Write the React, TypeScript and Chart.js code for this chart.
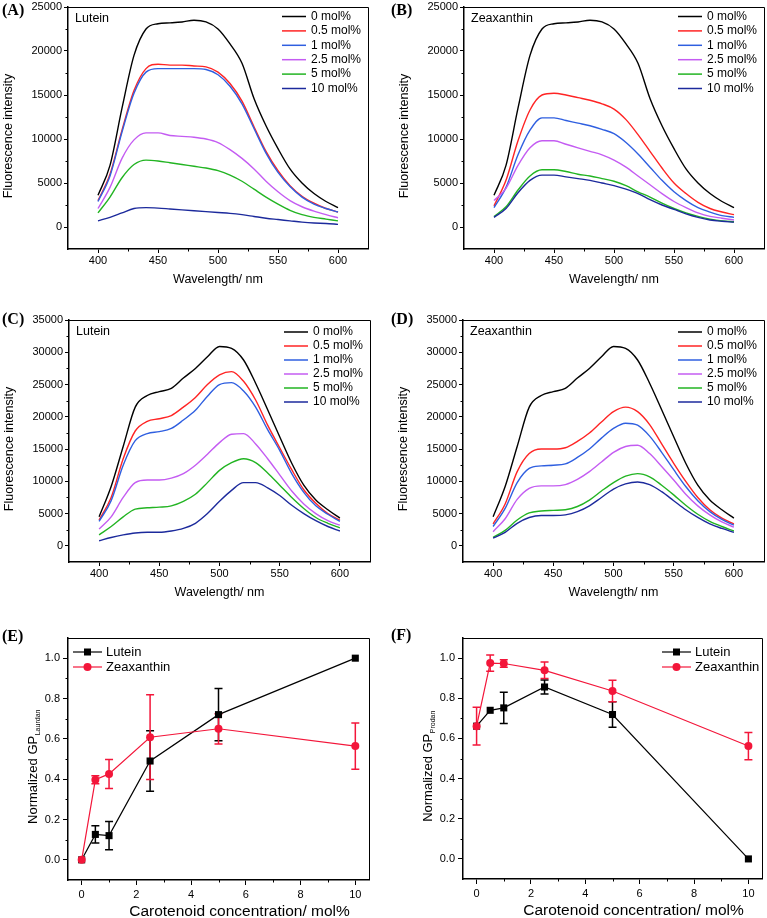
import React, { useEffect, useRef } from 'react';
import { Chart, registerables } from 'chart.js';

Chart.register(...registerables);

const FONT = '"Liberation Sans", Arial, Helvetica, sans-serif';
const SERIF = '"Liberation Serif", "Times New Roman", serif';

// ---------- Spectra data (fluorescence intensity vs wavelength) ----------
const wavelengths = [400, 410, 420, 430, 440, 450, 460, 470, 480, 490, 500, 510, 520, 530, 540, 550, 560, 570, 580, 590, 600];
const molLabels = ['0 mol%', '0.5 mol%', '1 mol%', '2.5 mol%', '5 mol%', '10 mol%'];
const spectrumColors = ['#000000', '#ff2424', '#2f5fe0', '#c45cf2', '#22b422', '#1c2a9c'];

// tick labels
const wavelengthTicks = [400, 450, 500, 550, 600];
const laurdanIntensityTicks = [0, 5000, 10000, 15000, 20000, 25000];
const prodanIntensityTicks = [0, 5000, 10000, 15000, 20000, 25000, 30000, 35000];
const concentrationTicks = [0, 2, 4, 6, 8, 10];
const gpTicks = [0, 0.2, 0.4, 0.6, 0.8, 1.0];

// Laurdan (A, B)
const laurdanControl = [3600, 7000, 13500, 19500, 22500, 23100, 23200, 23300, 23500, 23300, 22500, 20800, 18600, 14600, 11500, 8900, 6600, 5000, 3800, 2900, 2200];
const laurdanLut05 = [3000, 6000, 11000, 15500, 18000, 18500, 18400, 18400, 18300, 18200, 17600, 16300, 14300, 11400, 8600, 6400, 4700, 3500, 2700, 2100, 1700];
const laurdanLut1 = [2900, 5800, 10800, 15200, 17600, 18000, 18000, 18000, 18000, 17900, 17300, 16000, 14000, 11200, 8400, 6200, 4600, 3400, 2600, 2100, 1700];
const laurdanLut25 = [2100, 4500, 7800, 9900, 10700, 10700, 10400, 10300, 10200, 10000, 9600, 8800, 7800, 6600, 5200, 4000, 3000, 2300, 1800, 1400, 1050];
const laurdanLut5 = [1600, 3400, 5600, 7100, 7600, 7500, 7300, 7100, 6900, 6700, 6400, 5900, 5200, 4300, 3400, 2600, 1900, 1400, 1100, 900, 700];
const laurdanLut10 = [700, 1100, 1600, 2100, 2200, 2150, 2050, 1950, 1850, 1750, 1650, 1550, 1400, 1200, 1000, 850, 700, 550, 450, 400, 300];

const laurdanZea05 = [2400, 5300, 9800, 13300, 15000, 15200, 15000, 14700, 14400, 14000, 13400, 12200, 10500, 8600, 6700, 5000, 3800, 2800, 2100, 1700, 1400];
const laurdanZea1 = [2200, 4500, 8200, 11000, 12400, 12400, 12100, 11800, 11500, 11100, 10600, 9600, 8300, 6800, 5300, 4000, 3000, 2200, 1700, 1300, 1100];
const laurdanZea25 = [3000, 4400, 7000, 9000, 9800, 9800, 9400, 9000, 8600, 8200, 7600, 6800, 5800, 4800, 3800, 2900, 2200, 1600, 1200, 1000, 800];
const laurdanZea5 = [1200, 2300, 4200, 5800, 6500, 6500, 6300, 6000, 5800, 5500, 5200, 4700, 4000, 3400, 2700, 2100, 1600, 1200, 900, 700, 600];
const laurdanZea10 = [1100, 2100, 3900, 5300, 5900, 5900, 5700, 5500, 5300, 5000, 4700, 4300, 3800, 3100, 2500, 2000, 1500, 1100, 800, 650, 550];

// Prodan (C, D)
const prodanControl = [4500, 9200, 15400, 21500, 23300, 23900, 24400, 26000, 27500, 29300, 30900, 30600, 28800, 25200, 21100, 16900, 12800, 9400, 7100, 5600, 4300];
const prodanLut05 = [4000, 7500, 13500, 17800, 19300, 19700, 20200, 21500, 23000, 25000, 26500, 27000, 25500, 22600, 18700, 15200, 11800, 8700, 6600, 5000, 4000];
const prodanLut1 = [3800, 7000, 12500, 16300, 17400, 17700, 18200, 19500, 21000, 23200, 25000, 25300, 24000, 21500, 18000, 14800, 11200, 8300, 6200, 4900, 3800];
const prodanLut25 = [2600, 4500, 7500, 9800, 10200, 10200, 10500, 11200, 12500, 14200, 16000, 17300, 17400, 15800, 13500, 11000, 8500, 6500, 5000, 3900, 3200];
const prodanLut5 = [1700, 3000, 4500, 5700, 5900, 6000, 6200, 6900, 8000, 9800, 11700, 12900, 13500, 12900, 11300, 9400, 7500, 5800, 4400, 3500, 2800];
const prodanLut10 = [800, 1300, 1700, 2000, 2100, 2100, 2300, 2700, 3500, 5000, 6900, 8600, 9800, 9800, 9000, 7800, 6300, 5000, 3900, 3000, 2300];

const prodanZea05 = [3400, 6500, 11500, 14300, 15000, 15000, 15200, 16200, 17500, 19200, 20800, 21500, 20800, 18800, 15800, 12800, 10000, 7500, 5600, 4300, 3400];
const prodanZea1 = [3000, 5800, 9800, 12000, 12400, 12500, 12700, 13700, 15000, 16700, 18200, 19000, 18700, 17000, 14500, 11800, 9200, 7000, 5300, 4100, 3200];
const prodanZea25 = [2200, 4200, 7200, 8900, 9300, 9300, 9500, 10300, 11500, 13000, 14500, 15400, 15600, 14300, 12300, 10200, 8000, 6200, 4800, 3700, 2900];
const prodanZea5 = [1300, 2400, 4000, 5100, 5400, 5500, 5600, 6100, 7100, 8500, 9800, 10800, 11200, 10700, 9400, 7900, 6300, 4900, 3800, 3000, 2300];
const prodanZea10 = [1200, 2100, 3500, 4400, 4700, 4700, 4800, 5300, 6200, 7500, 8800, 9600, 9900, 9500, 8400, 7000, 5600, 4400, 3400, 2700, 2100];

// ---------- GP data ----------
const concentrations = [0, 0.5, 1, 2.5, 5, 10];
const gpLaurdanLutein = [0, 0.126, 0.12, 0.49, 0.72, 1.0];
const gpLaurdanLuteinErr = [0, 0.043, 0.07, 0.15, 0.13, 0];
const gpLaurdanZea = [0, 0.397, 0.426, 0.608, 0.65, 0.564];
const gpLaurdanZeaErr = [0, 0.02, 0.072, 0.21, 0.075, 0.115];
const gpProdanLutein = [0.661, 0.74, 0.752, 0.856, 0.719, 0];
const gpProdanLuteinErr = [0, 0, 0.078, 0.035, 0.063, 0];
const gpProdanZea = [0.661, 0.975, 0.973, 0.939, 0.836, 0.562];
const gpProdanZeaErr = [0.094, 0.04, 0.019, 0.041, 0.054, 0.068];

const gpSeriesNames = ['Lutein', 'Zeaxanthin'];
const gpColors = ['#000000', '#f3163a'];

// ---------- Layout specs ----------
type Area = { l: number; t: number; r: number; b: number };
type PanelSpec = {
  key: string;
  label: string;
  x: number; y: number; w: number; h: number;
  area: Area;
  labelPos: [number, number];
  kind: 'spectrum' | 'gp';
  name?: string;
  series?: number[][];
  yMax?: number;
  yTicks: number[];
  xTicks: number[];
  gp?: { values: number[][]; errors: number[][] };
  ySub?: string;
};

const panels: PanelSpec[] = [
  { key: 'A', label: '(A)', x: 0, y: 0, w: 384, h: 300, area: { l: 68, t: 7, r: 368, b: 249 }, labelPos: [2, 15], kind: 'spectrum', name: 'Lutein', yMax: 25000,
    yTicks: laurdanIntensityTicks, xTicks: wavelengthTicks,
    series: [laurdanControl, laurdanLut05, laurdanLut1, laurdanLut25, laurdanLut5, laurdanLut10] },
  { key: 'B', label: '(B)', x: 384, y: 0, w: 383, h: 300, area: { l: 80, t: 7, r: 380, b: 249 }, labelPos: [7, 15], kind: 'spectrum', name: 'Zeaxanthin', yMax: 25000,
    yTicks: laurdanIntensityTicks, xTicks: wavelengthTicks,
    series: [laurdanControl, laurdanZea05, laurdanZea1, laurdanZea25, laurdanZea5, laurdanZea10] },
  { key: 'C', label: '(C)', x: 0, y: 300, w: 384, h: 310, area: { l: 69, t: 20, r: 370, b: 262 }, labelPos: [2, 24], kind: 'spectrum', name: 'Lutein', yMax: 35000,
    yTicks: prodanIntensityTicks, xTicks: wavelengthTicks,
    series: [prodanControl, prodanLut05, prodanLut1, prodanLut25, prodanLut5, prodanLut10] },
  { key: 'D', label: '(D)', x: 384, y: 300, w: 383, h: 310, area: { l: 79, t: 20, r: 380, b: 262 }, labelPos: [7, 24], kind: 'spectrum', name: 'Zeaxanthin', yMax: 35000,
    yTicks: prodanIntensityTicks, xTicks: wavelengthTicks,
    series: [prodanControl, prodanZea05, prodanZea1, prodanZea25, prodanZea5, prodanZea10] },
  { key: 'E', label: '(E)', x: 0, y: 610, w: 384, h: 308, area: { l: 68, t: 28, r: 369, b: 270 }, labelPos: [2, 31], kind: 'gp', ySub: 'Laurdan',
    yTicks: gpTicks, xTicks: concentrationTicks,
    gp: { values: [gpLaurdanLutein, gpLaurdanZea], errors: [gpLaurdanLuteinErr, gpLaurdanZeaErr] } },
  { key: 'F', label: '(F)', x: 384, y: 610, w: 383, h: 308, area: { l: 79, t: 28, r: 379, b: 269 }, labelPos: [7, 30], kind: 'gp', ySub: 'Prodan',
    yTicks: gpTicks, xTicks: concentrationTicks,
    gp: { values: [gpProdanLutein, gpProdanZea], errors: [gpProdanLuteinErr, gpProdanZeaErr] } },
];

function drawMarker(ctx: CanvasRenderingContext2D, idx: number, x: number, y: number, color: string) {
  ctx.fillStyle = color;
  if (idx === 0) {
    ctx.fillRect(x - 3.5, y - 3.5, 7, 7);
  } else {
    ctx.beginPath();
    ctx.arc(x, y, 4, 0, Math.PI * 2);
    ctx.fill();
  }
}

function makeDeco(spec: PanelSpec) {
  const isGp = spec.kind === 'gp';
  const yMinor = isGp ? 0.1 : 2500;
  const yMajor = isGp ? 0.2 : 5000;
  const xMinor = isGp ? 1 : 25;
  const xMajor = isGp ? 2 : 50;
  return {
    id: 'deco' + spec.key,
    beforeDatasetsDraw(chart: any) {
      if (!isGp || !spec.gp) return;
      const ctx = chart.ctx as CanvasRenderingContext2D;
      const xs = chart.scales.x, ys = chart.scales.y;
      ctx.save();
      ctx.lineWidth = 1.5;
      spec.gp.values.forEach((vals, s) => {
        ctx.strokeStyle = gpColors[s];
        vals.forEach((v, i) => {
          const e = spec.gp!.errors[s][i];
          if (!e) return;
          const px = xs.getPixelForValue(concentrations[i]);
          const p1 = ys.getPixelForValue(v + e);
          const p2 = ys.getPixelForValue(v - e);
          ctx.beginPath();
          ctx.moveTo(px, p1); ctx.lineTo(px, p2);
          ctx.moveTo(px - 4, p1); ctx.lineTo(px + 4, p1);
          ctx.moveTo(px - 4, p2); ctx.lineTo(px + 4, p2);
          ctx.stroke();
        });
      });
      ctx.restore();
    },
    afterDraw(chart: any) {
      const ctx = chart.ctx as CanvasRenderingContext2D;
      const a = chart.chartArea;
      const xs = chart.scales.x, ys = chart.scales.y;
      ctx.save();
      // frame (top and right)
      ctx.strokeStyle = '#000';
      ctx.lineWidth = 1;
      ctx.beginPath();
      ctx.moveTo(a.left, a.top + 0.5);
      ctx.lineTo(a.right + 0.5, a.top + 0.5);
      ctx.lineTo(a.right + 0.5, a.bottom);
      ctx.stroke();
      // minor ticks
      ctx.lineWidth = 1;
      ctx.beginPath();
      const yMin = ys.min, yMaxV = ys.max;
      const startY = Math.ceil(yMin / yMinor - 1e-9) * yMinor;
      for (let v = startY; v <= yMaxV + 1e-9; v += yMinor) {
        const r = v / yMajor;
        if (Math.abs(r - Math.round(r)) < 1e-6) continue;
        if (Math.abs(v - yMin) < 1e-6 || Math.abs(v - yMaxV) < 1e-6) continue;
        const py = Math.round(ys.getPixelForValue(v)) + 0.5;
        ctx.moveTo(a.left - 2.5, py); ctx.lineTo(a.left, py);
      }
      const xMin = xs.min, xMaxV = xs.max;
      const startX = Math.ceil(xMin / xMinor - 1e-9) * xMinor;
      for (let v = startX; v <= xMaxV + 1e-9; v += xMinor) {
        const r = v / xMajor;
        if (Math.abs(r - Math.round(r)) < 1e-6) continue;
        if (Math.abs(v - xMin) < 1e-6 || Math.abs(v - xMaxV) < 1e-6) continue;
        const px = Math.round(xs.getPixelForValue(v)) + 0.5;
        ctx.moveTo(px, a.bottom); ctx.lineTo(px, a.bottom + 2.5);
      }
      ctx.stroke();

      ctx.fillStyle = '#000';
      // panel label
      ctx.font = `bold 16px ${SERIF}`;
      ctx.textAlign = 'left';
      ctx.textBaseline = 'alphabetic';
      ctx.fillText(spec.label, spec.labelPos[0], spec.labelPos[1]);

      // axis titles
      const cx = (a.left + a.right) / 2;
      const cy = (a.top + a.bottom) / 2;
      ctx.textBaseline = 'middle';
      if (!isGp) {
        ctx.font = `12.5px ${FONT}`;
        ctx.textAlign = 'center';
        ctx.fillText('Wavelength/ nm', cx, a.bottom + 31);
        ctx.save();
        ctx.translate(a.left - 59, cy + 8);
        ctx.rotate(-Math.PI / 2);
        ctx.fillText('Fluorescence intensity', 0, 0);
        ctx.restore();

        // series name
        ctx.font = `12.5px ${FONT}`;
        ctx.textAlign = 'left';
        ctx.fillText(spec.name || '', a.left + 7, a.top + 12);

        // legend
        const y0 = spec.key === 'A' || spec.key === 'B' ? 9.5 : 12;
        const dy = spec.key === 'A' || spec.key === 'B' ? 14.4 : 14;
        ctx.font = `12px ${FONT}`;
        molLabels.forEach((lab, i) => {
          const ly = a.top + y0 + i * dy;
          ctx.strokeStyle = spectrumColors[i];
          ctx.lineWidth = 1.5;
          ctx.beginPath();
          ctx.moveTo(a.right - 86, ly); ctx.lineTo(a.right - 62, ly);
          ctx.stroke();
          ctx.fillStyle = '#000';
          ctx.fillText(lab, a.right - 57, ly);
        });
      } else {
        ctx.font = `15.5px ${FONT}`;
        ctx.textAlign = 'center';
        ctx.fillText('Carotenoid concentration/ mol%', cx + 21, a.bottom + 32);
        // y title with subscript
        ctx.save();
        ctx.translate(a.left - 35, cy + 8);
        ctx.rotate(-Math.PI / 2);
        const main = 'Normalized GP';
        const sub = spec.ySub || '';
        ctx.font = `13px ${FONT}`;
        const w1 = ctx.measureText(main).width;
        ctx.font = `7px ${FONT}`;
        const w2 = ctx.measureText(sub).width;
        const start = -(w1 + w2) / 2;
        ctx.textAlign = 'left';
        ctx.font = `13px ${FONT}`;
        ctx.fillText(main, start, 0);
        ctx.font = `7px ${FONT}`;
        ctx.fillText(sub, start + w1 + 0.5, 5);
        ctx.restore();

        // legend
        const lx = spec.key === 'E' ? a.left + 5 : a.left + 199;
        ctx.font = `13px ${FONT}`;
        ctx.textAlign = 'left';
        gpSeriesNames.forEach((nm, i) => {
          const ly = a.top + 14 + i * 15;
          ctx.strokeStyle = gpColors[i];
          ctx.lineWidth = 1.2;
          ctx.beginPath();
          ctx.moveTo(lx, ly); ctx.lineTo(lx + 29, ly);
          ctx.stroke();
          drawMarker(ctx, i, lx + 14.5, ly, gpColors[i]);
          ctx.fillStyle = '#000';
          ctx.fillText(nm, lx + 33, ly);
        });
      }
      ctx.restore();
    },
  };
}

function buildConfig(spec: PanelSpec): any {
  const isGp = spec.kind === 'gp';
  const a = spec.area;
  let datasets: any[];
  if (!isGp) {
    datasets = (spec.series || []).map((arr, i) => ({
      label: molLabels[i],
      data: wavelengths.map((w, k) => ({ x: w, y: arr[k] })),
      borderColor: spectrumColors[i],
      backgroundColor: spectrumColors[i],
      borderWidth: 1.4,
      pointRadius: 0,
      cubicInterpolationMode: 'monotone',
      fill: false,
      order: 5 - i,
    }));
  } else {
    datasets = spec.gp!.values.map((vals, s) => ({
      label: gpSeriesNames[s],
      data: concentrations.map((c, k) => ({ x: c, y: vals[k] })),
      borderColor: gpColors[s],
      backgroundColor: gpColors[s],
      borderWidth: 1.2,
      pointStyle: s === 0 ? 'rect' : 'circle',
      pointRadius: s === 0 ? 5 : 4,
      pointBorderWidth: 0,
      tension: 0,
      fill: false,
      order: 1 - s,
    }));
  }
  const tickFont = { family: FONT, size: 11 };
  const xTicks = spec.xTicks;
  const yTicks = spec.yTicks;
  return {
    type: 'line',
    data: { datasets },
    options: {
      responsive: false,
      animation: false,
      devicePixelRatio: 1,
      events: [],
      layout: { padding: { left: 0, top: a.t, right: spec.w - a.r, bottom: 0 } },
      plugins: { legend: { display: false }, tooltip: { enabled: false } },
      scales: {
        x: {
          type: 'linear',
          min: isGp ? -0.5 : 375,
          max: isGp ? 10.5 : 625,
          afterBuildTicks: (scale: any) => {
            scale.ticks = xTicks.map((v) => ({ value: v }));
          },
          ticks: {
            autoSkip: false,
            maxRotation: 0,
            color: '#000',
            font: tickFont,
            padding: isGp ? 3 : 1,
            callback: (v: number) => String(v),
          },
          grid: { drawOnChartArea: false, drawTicks: true, tickLength: isGp ? 5 : 4, color: '#000', tickColor: '#000', tickWidth: 1 },
          border: { display: true, color: '#000', width: 1.5 },
          afterFit: (scale: any) => {
            scale.height = spec.h - a.b;
            scale.paddingLeft = 0;
            scale.paddingRight = 0;
          },
        },
        y: {
          type: 'linear',
          min: isGp ? -0.1 : -2500,
          max: isGp ? 1.1 : spec.yMax,
          afterBuildTicks: (scale: any) => {
            scale.ticks = yTicks.map((v) => ({ value: v }));
          },
          ticks: {
            autoSkip: false,
            color: '#000',
            font: tickFont,
            padding: isGp ? 3 : 2,
            callback: (v: number) => (isGp ? Number(v).toFixed(1) : String(Math.round(v))),
          },
          grid: { drawOnChartArea: false, drawTicks: true, tickLength: isGp ? 5 : 4, color: '#000', tickColor: '#000', tickWidth: 1 },
          border: { display: true, color: '#000', width: 1.5 },
          afterFit: (scale: any) => {
            scale.width = a.l;
            scale.paddingTop = 0;
            scale.paddingBottom = 0;
          },
        },
      },
    },
    plugins: [makeDeco(spec)],
  };
}

function Panel({ spec }: { spec: PanelSpec }) {
  const ref = useRef<HTMLCanvasElement>(null);
  useEffect(() => {
    if (!ref.current) return;
    const chart = new Chart(ref.current, buildConfig(spec));
    return () => chart.destroy();
  }, [spec]);
  return (
    <canvas
      ref={ref}
      width={spec.w}
      height={spec.h}
      style={{ position: 'absolute', left: spec.x, top: spec.y, width: spec.w, height: spec.h }}
    />
  );
}

export default function App() {
  return (
    <div style={{ position: 'absolute', left: 0, top: 0, width: 767, height: 918, background: '#fff', overflow: 'hidden' }}>
      {panels.map((p) => (
        <Panel key={p.key} spec={p} />
      ))}
    </div>
  );
}
